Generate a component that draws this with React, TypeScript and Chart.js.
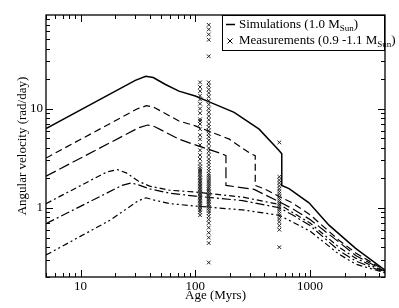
import React, { useEffect, useRef } from 'react';
import { Chart, registerables } from 'chart.js';

Chart.register(...registerables);

// ---------- data ----------
const solidAges = [5, 30, 37, 43, 55, 72, 100, 137, 218, 360, 537, 567, 567, 656, 979, 1462, 2495, 4500];
const solidOmega = [6.3, 19.3, 21.2, 20.6, 17.5, 15.0, 13.4, 11.5, 9.16, 6.2, 3.78, 3.5, 1.68, 1.56, 1.12, 0.667, 0.389, 0.235];

const dash1Ages = [5, 31, 37.5, 43, 72, 100, 198, 305, 333, 333, 400, 537, 700, 1000, 1786, 2500, 4500];
const dash1Omega = [3.17, 9.9, 10.7, 10.4, 7.5, 6.69, 4.92, 3.49, 3.35, 1.68, 1.55, 1.3, 1.12, 0.85, 0.47, 0.35, 0.232];

const dash2Ages = [5, 32, 38.5, 44, 72, 100, 173, 185, 185, 326, 537, 700, 1000, 1786, 2500, 4500];
const dash2Omega = [2.08, 6.4, 6.83, 6.6, 4.92, 4.3, 3.48, 3.35, 1.68, 1.53, 1.15, 0.98, 0.76, 0.45, 0.33, 0.228];

const dotA1Ages = [5, 17, 21, 25, 32, 40, 60, 100, 258, 537, 700, 1000, 1786, 2500, 4500];
const dotA1Omega = [1.1, 2.3, 2.42, 2.25, 1.85, 1.65, 1.5, 1.44, 1.28, 1.08, 0.9, 0.7, 0.4, 0.31, 0.225];

const dotA2Ages = [5, 23, 27.6, 32, 40, 60, 100, 258, 537, 700, 1000, 1786, 2500, 4500];
const dotA2Omega = [0.69, 1.68, 1.78, 1.7, 1.55, 1.4, 1.31, 1.18, 1.0, 0.85, 0.66, 0.37, 0.29, 0.222];

const dotBAges = [5, 18, 32, 37.3, 43, 60, 100, 258, 537, 700, 1000, 1786, 2500, 4500];
const dotBOmega = [0.333, 0.746, 1.18, 1.26, 1.2, 1.1, 1.04, 0.95, 0.84, 0.72, 0.58, 0.34, 0.27, 0.22];

const pleiadesAge = 110;
const pleiadesOmega = [18.4, 16.5, 15.0, 13.5, 12.4, 11.2, 10.0, 9.0, 7.8, 7.5, 7.0, 6.2, 5.4, 4.9, 4.3, 3.8, 3.4, 3.1, 2.8, 2.6, 2.45, 2.35, 2.25, 2.15, 2.05, 1.98, 1.9, 1.84, 1.78, 1.72, 1.66, 1.6, 1.55, 1.5, 1.45, 1.4, 1.36, 1.32, 1.28, 1.24, 1.2, 1.16, 1.12, 1.08, 1.04, 1.0, 0.95, 0.9, 0.84];

const m35Age = 131;
const m35Omega = [70, 63, 56, 49.5, 33.7, 18.4, 17, 15.6, 14.4, 13.2, 12, 11, 10, 9.2, 8.4, 7.7, 7.0, 6.5, 6.0, 5.6, 5.2, 4.8, 4.4, 4.0, 3.7, 3.4, 3.1, 2.9, 2.7, 2.5, 2.35, 2.2, 2.1, 2.0, 1.9, 1.82, 1.74, 1.66, 1.6, 1.54, 1.48, 1.42, 1.37, 1.32, 1.27, 1.22, 1.18, 1.14, 1.1, 1.06, 1.02, 0.98, 0.93, 0.88, 0.82, 0.76, 0.7, 0.63, 0.56, 0.5, 0.44, 0.28];

const hyadesAge = 540;
const hyadesOmega = [4.56, 2.05, 1.9, 1.78, 1.66, 1.55, 1.46, 1.38, 1.3, 1.24, 1.18, 1.12, 1.07, 1.02, 0.97, 0.92, 0.87, 0.82, 0.77, 0.72, 0.66, 0.6, 0.4];

const xTicks = [5, 6, 7, 8, 9, 10, 20, 30, 40, 50, 60, 70, 80, 90, 100, 200, 300, 400, 500, 600, 700, 800, 900, 1000, 2000, 3000, 4000];
const xLabels = [10, 100, 1000];
const yTicks = [0.2, 0.3, 0.4, 0.5, 0.6, 0.7, 0.8, 0.9, 1, 2, 3, 4, 5, 6, 7, 8, 9, 10, 20, 30, 40, 50, 60, 70, 80];
const yLabels = [1, 10];

const xTitle = 'Age (Myrs)';
const yTitle = 'Angular velocity (rad/day)';
const legendSim = ['Simulations (1.0 M', 'Sun', ')'];
const legendMeas = ['Measurements (0.9 -1.1 M', 'Sun', ')'];

const FONT = 'Liberation Serif';

const zip = (xs: number[], ys: number[]) => xs.map((x, i) => ({ x, y: ys[i] }));
const column = (x: number, ys: number[]) => ys.map((y) => ({ x, y }));
const isMajor = (v: number) => Math.abs(Math.log10(v) - Math.round(Math.log10(v))) < 1e-9;

const framePlugin = {
  id: 'frameTicks',
  afterDatasetsDraw(chart: any) {
    const { ctx, chartArea: a, scales } = chart;
    ctx.save();
    ctx.strokeStyle = '#000';
    ctx.lineWidth = 1;
    const line = (x1: number, y1: number, x2: number, y2: number) => {
      ctx.beginPath();
      ctx.moveTo(x1, y1);
      ctx.lineTo(x2, y2);
      ctx.stroke();
    };
    scales.x.ticks.forEach((t: any) => {
      const px = Math.round(scales.x.getPixelForValue(t.value)) + 0.5;
      const len = isMajor(t.value) ? 7 : 4;
      line(px, a.bottom, px, a.bottom - len);
      line(px, a.top, px, a.top + len);
    });
    scales.y.ticks.forEach((t: any) => {
      const py = Math.round(scales.y.getPixelForValue(t.value)) + 0.5;
      const len = isMajor(t.value) ? 7 : 4;
      line(a.left, py, a.left + len, py);
      line(a.right, py, a.right - len, py);
    });
    ctx.lineWidth = 1.3;
    ctx.strokeRect(a.left, a.top, a.right - a.left, a.bottom - a.top);
    ctx.restore();
  },
};

const legendPlugin = {
  id: 'subLegend',
  afterDraw(chart: any) {
    const { ctx, chartArea: a } = chart;
    ctx.save();
    const bx = a.right - 163;
    const by = a.top;
    ctx.fillStyle = '#fff';
    ctx.fillRect(bx, by, 163, 36);
    ctx.strokeStyle = '#000';
    ctx.lineWidth = 1;
    ctx.strokeRect(bx + 0.5, by + 0.5, 162, 35);
    const tx = bx + 17;
    const drawSub = (parts: string[], baseY: number) => {
      let x = tx;
      ctx.fillStyle = '#000';
      ctx.textBaseline = 'alphabetic';
      ctx.font = `13px "${FONT}"`;
      ctx.fillText(parts[0], x, baseY);
      x += ctx.measureText(parts[0]).width;
      ctx.font = `9px "${FONT}"`;
      ctx.fillText(parts[1], x, baseY + 3);
      x += ctx.measureText(parts[1]).width;
      ctx.font = `13px "${FONT}"`;
      ctx.fillText(parts[2], x, baseY);
    };
    // line sample
    ctx.lineWidth = 1.5;
    ctx.beginPath();
    ctx.moveTo(bx + 4, by + 9.5);
    ctx.lineTo(bx + 13, by + 9.5);
    ctx.stroke();
    drawSub(legendSim, by + 13);
    // cross sample
    ctx.lineWidth = 1;
    const cx = bx + 8;
    const cy = by + 26;
    ctx.beginPath();
    ctx.moveTo(cx - 2.5, cy - 2.5);
    ctx.lineTo(cx + 2.5, cy + 2.5);
    ctx.moveTo(cx + 2.5, cy - 2.5);
    ctx.lineTo(cx - 2.5, cy + 2.5);
    ctx.stroke();
    drawSub(legendMeas, by + 29);
    ctx.restore();
  },
};

export default function App() {
  const ref = useRef<HTMLCanvasElement>(null);
  useEffect(() => {
    if (!ref.current) return;
    const scatterStyle = {
      type: 'scatter' as const,
      showLine: false,
      pointStyle: 'crossRot' as const,
      pointRadius: 2.6,
      pointBorderWidth: 1,
      borderColor: '#222',
      backgroundColor: '#222',
    };
    const lineStyle = (data: any[], dash: number[], width = 1.2) => ({
      type: 'line' as const,
      data,
      borderColor: '#000',
      borderWidth: width,
      borderDash: dash,
      pointRadius: 0,
      tension: 0,
      fill: false,
    });
    const chart = new Chart(ref.current, {
      type: 'line',
      data: {
        datasets: [
          { ...scatterStyle, data: column(pleiadesAge, pleiadesOmega) },
          { ...scatterStyle, data: column(m35Age, m35Omega) },
          { ...scatterStyle, data: column(hyadesAge, hyadesOmega) },
          lineStyle(zip(solidAges, solidOmega), [], 1.5),
          lineStyle(zip(dash1Ages, dash1Omega), [7, 4]),
          lineStyle(zip(dash2Ages, dash2Omega), [11, 4]),
          lineStyle(zip(dotA1Ages, dotA1Omega), [6, 3, 2, 3]),
          lineStyle(zip(dotA2Ages, dotA2Omega), [9, 3, 2, 3]),
          lineStyle(zip(dotBAges, dotBOmega), [6, 3, 2, 3, 2, 3]),
        ] as any,
      },
      options: {
        animation: false,
        responsive: false,
        layout: { padding: { top: 15, right: 14, left: 0, bottom: 0 } },
        plugins: { legend: { display: false }, tooltip: { enabled: false } },
        scales: {
          x: {
            type: 'logarithmic',
            min: 5,
            max: 4500,
            grid: { display: false, drawTicks: false },
            border: { display: false },
            afterBuildTicks: (s: any) => {
              s.ticks = xTicks.map((v) => ({ value: v }));
            },
            afterFit: (s: any) => {
              s.height = 31;
            },
            ticks: {
              autoSkip: false,
              maxRotation: 0,
              padding: 2,
              color: '#000',
              font: { family: FONT, size: 13 },
              callback: (v: any) => (xLabels.includes(Number(v)) ? String(v) : ''),
            },
            title: {
              display: true,
              text: xTitle,
              color: '#000',
              font: { family: FONT, size: 13 },
              padding: { top: 0, bottom: 4.5 },
            },
          },
          y: {
            type: 'logarithmic',
            min: 0.2,
            max: 88,
            grid: { display: false, drawTicks: false },
            border: { display: false },
            afterBuildTicks: (s: any) => {
              s.ticks = yTicks.map((v) => ({ value: v }));
            },
            afterFit: (s: any) => {
              s.width = 46;
            },
            ticks: {
              autoSkip: false,
              padding: 3,
              color: '#000',
              font: { family: FONT, size: 13 },
              callback: (v: any) => (yLabels.includes(Number(v)) ? String(v) : ''),
            },
            title: {
              display: true,
              text: yTitle,
              color: '#000',
              font: { family: FONT, size: 13 },
              padding: { top: 15, bottom: 0 },
            },
          },
        },
      },
      plugins: [framePlugin, legendPlugin],
    });
    return () => chart.destroy();
  }, []);
  return (
    <div style={{ position: 'absolute', left: 0, top: 0, width: 399, height: 308, background: '#fff' }}>
      <canvas ref={ref} width={399} height={308} />
    </div>
  );
}
